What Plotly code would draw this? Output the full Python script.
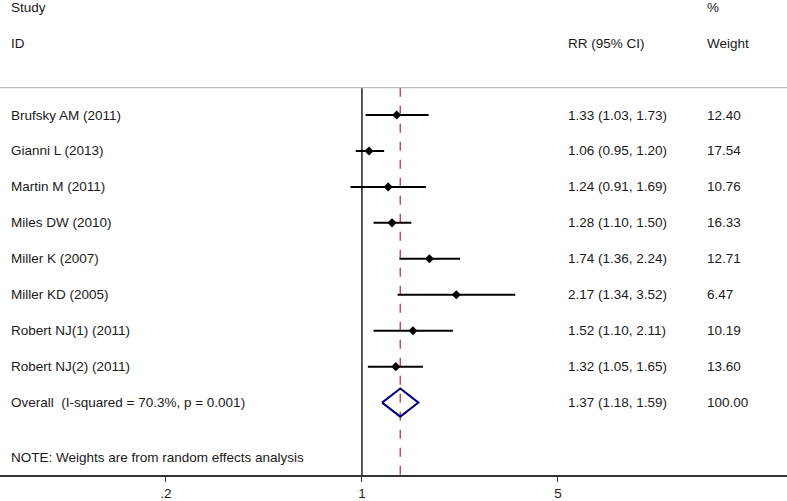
import numpy as np
import plotly.graph_objects as go

studies = ["Brufsky AM (2011)", "Gianni L (2013)", "Martin M (2011)", "Miles DW (2010)",
           "Miller K (2007)", "Miller KD (2005)", "Robert NJ(1) (2011)", "Robert NJ(2) (2011)"]
rr = [1.33, 1.06, 1.24, 1.28, 1.74, 2.17, 1.52, 1.32]
lo = [1.03, 0.95, 0.91, 1.10, 1.36, 1.34, 1.10, 1.05]
hi = [1.73, 1.20, 1.69, 1.50, 2.24, 3.52, 2.11, 1.65]
weights = [12.40, 17.54, 10.76, 16.33, 12.71, 6.47, 10.19, 13.60]

overall_label = "Overall  (I-squared = 70.3%, p = 0.001)"
overall_rr, overall_lo, overall_hi = 1.37, 1.18, 1.59
note = "NOTE: Weights are from random effects analysis"

tick_vals = [0.2, 1, 5]
tick_text = [".2", "1", "5"]

FONT = "Liberation Sans, Arial, sans-serif"
TXT = "#1a1a1a"
FS = 13.5

rows = list(range(len(studies)))
overall_row = len(studies)
y_top_line = -0.76
y_bottom = 10.014

fig = go.Figure()

# header separator
fig.add_shape(type="line", xref="paper", yref="y", x0=0, x1=1, y0=y_top_line, y1=y_top_line,
              line=dict(color="#bdbdbd", width=1.2))

# null line at 1 and dashed overall line
fig.add_trace(go.Scatter(x=[1, 1], y=[y_top_line, y_bottom], mode="lines",
                         line=dict(color="#222", width=1.5), hoverinfo="skip"))
fig.add_trace(go.Scatter(x=[overall_rr, overall_rr], y=[y_top_line, y_bottom], mode="lines",
                         line=dict(color="#c0504d", width=1.5, dash="dash"), hoverinfo="skip"))

# CI lines
cx, cy = [], []
for l, h, r in zip(lo, hi, rows):
    cx += [l, h, None]
    cy += [r, r, None]
fig.add_trace(go.Scatter(x=cx, y=cy, mode="lines", line=dict(color="black", width=2),
                         hoverinfo="skip"))
fig.add_trace(go.Scatter(x=rr, y=rows, mode="markers",
                         marker=dict(symbol="diamond", size=7, color="black")))

# overall diamond
hh = 0.39
fig.add_trace(go.Scatter(
    x=[overall_lo, overall_rr, overall_hi, overall_rr, overall_lo],
    y=[overall_row, overall_row - hh, overall_row, overall_row + hh, overall_row],
    mode="lines", line=dict(color="#000080", width=2), hoverinfo="skip"))

ann = []
def txt(x, y, s):
    ann.append(dict(x=x, y=y, xref="paper", yref="y", text=s, showarrow=False,
                    xanchor="left", yanchor="middle",
                    font=dict(family=FONT, size=FS, color=TXT)))

x_left, x_rr, x_w = 9 / 787, 566 / 787, 705 / 787
txt(x_left, -3, "Study")
txt(x_left, -2, "ID")
txt(x_rr, -2, "RR (95% CI)")
txt(x_w, -3, "%")
txt(x_w, -2, "Weight")
for s, r, l, h, w, row in zip(studies, rr, lo, hi, weights, rows):
    txt(x_left, row, s)
    txt(x_rr, row, f"{r:.2f} ({l:.2f}, {h:.2f})")
    txt(x_w, row, f"{w:.2f}")
txt(x_left, overall_row, overall_label)
txt(x_rr, overall_row, f"{overall_rr:.2f} ({overall_lo:.2f}, {overall_hi:.2f})")
txt(x_w, overall_row, "100.00")
txt(x_left, 9.54, note)

fig.update_layout(
    width=787, height=501,
    margin=dict(l=0, r=0, t=0, b=24),
    paper_bgcolor="white", plot_bgcolor="white",
    showlegend=False,
    annotations=ann,
    xaxis=dict(type="log", range=[-1.291, 1.516], tickvals=tick_vals, ticktext=tick_text,
               showgrid=False, zeroline=False, showline=True, linecolor="#333", linewidth=1.5,
               ticks="outside", ticklen=5, tickcolor="#333", tickwidth=1,
               tickfont=dict(family=FONT, size=FS, color=TXT), fixedrange=True),
    yaxis=dict(range=[y_bottom, -3.2], showgrid=False, zeroline=False, showline=False,
               showticklabels=False, fixedrange=True),
)

fig.write_html("out.html", config={"displayModeBar": False},
               post_script="document.body.style.margin='0';")
